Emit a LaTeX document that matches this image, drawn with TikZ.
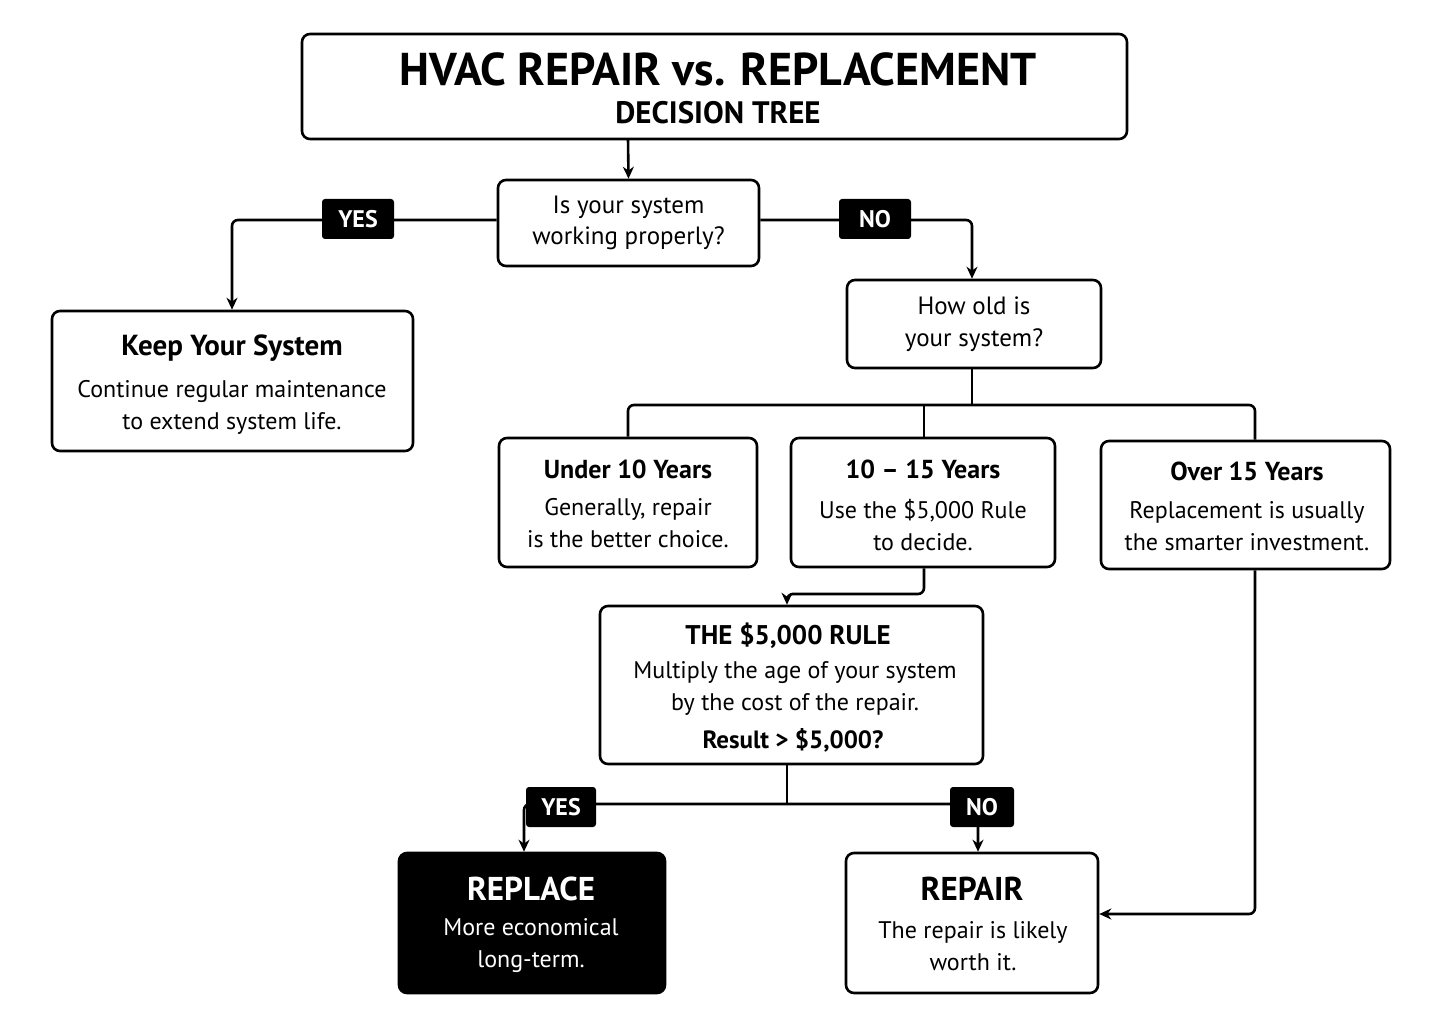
\documentclass[tikz,border=0pt]{standalone}
\usepackage{fontspec}
\setmainfont{PT Sans}
\usetikzlibrary{arrows.meta}
\begin{document}
\begin{tikzpicture}[x=1pt,y=-1pt,
  box/.style={draw,line width=2.6pt,rounded corners=8pt,align=center,inner sep=0pt},
  ln/.style={line width=2.6pt,rounded corners=6pt},
  ar/.style={ln,-{Stealth[length=12pt,width=11pt]}},
  tag/.style={fill=black,text=white,rounded corners=3pt,font=\fontsize{24}{26}\selectfont\bfseries,minimum width=72pt,minimum height=40pt,inner sep=0pt},
  hd/.style={font=\fontsize{29}{32}\selectfont\bfseries},
  bd/.style={font=\fontsize{24}{32}\selectfont,align=center}]
\useasboundingbox (0,0) rectangle (1442,1024);
\fill[white] (0,0) rectangle (1442,1024);
\node[box,minimum width=825pt,minimum height=105pt] (t) at (714.5,86.5) {};
\node[font=\fontsize{46}{50}\selectfont\bfseries] (t1) at (718,69) {HVAC REPAIR vs. REPLACEMENT};
\node[font=\fontsize{31}{34}\selectfont\bfseries] (t2) at (718,113) {DECISION TREE};
\node[box,minimum width=261pt,minimum height=86pt,font=\fontsize{25}{31}\selectfont] (q1) at (628.5,223) {Is your system\\working properly?};
\node[box,minimum width=361pt,minimum height=140pt] (k) at (232.5,381) {};
\node[hd] (k1) at (232,348) {Keep Your System};
\node[bd] (k2) at (232,407) {Continue regular maintenance\\to extend system life.};
\node[box,minimum width=254pt,minimum height=88pt,font=\fontsize{25}{32}\selectfont] (h) at (974,324) {How old is\\your system?};
\node[box,minimum width=258pt,minimum height=129pt] (u) at (628,502.5) {};
\node[hd,font=\fontsize{26}{30}\selectfont\bfseries] at (628,469) {Under 10 Years};
\node[bd] at (628,523) {Generally, repair\\is the better choice.};
\node[box,minimum width=264pt,minimum height=129pt] (m) at (923,502.5) {};
\node[hd,font=\fontsize{26}{30}\selectfont\bfseries] at (923,469) {10 – 15 Years};
\node[bd] at (923,525) {Use the \$5,000 Rule\\to decide.};
\node[box,minimum width=289pt,minimum height=128pt] (o) at (1245.5,505) {};
\node[hd,font=\fontsize{26}{30}\selectfont\bfseries] at (1247,471) {Over 15 Years};
\node[bd] at (1247,526) {Replacement is usually\\the smarter investment.};
\node[box,minimum width=383pt,minimum height=158pt] (r) at (791.5,685) {};
\node[hd,font=\fontsize{27}{30}\selectfont\bfseries] at (788,636) {THE \$5,000 RULE};
\node[bd] at (795,688) {Multiply the age of your system\\by the cost of the repair.};
\node[font=\fontsize{25}{30}\selectfont\bfseries] at (793,740) {Result > \$5,000?};
\node[box,fill=black,minimum width=266pt,minimum height=140pt] (rp) at (532,923) {};
\node[text=white,font=\fontsize{33}{36}\selectfont\bfseries] at (531,889) {REPLACE};
\node[text=white,bd] at (531,946) {More economical\\long-term.};
\node[box,minimum width=252pt,minimum height=140pt] (re) at (972,923) {};
\node[font=\fontsize{33}{36}\selectfont\bfseries] at (972,889) {REPAIR};
\node[bd] at (973,946) {The repair is likely\\worth it.};
% connectors
\coordinate (a1) at (628,139);
\draw[ar] (a1) -- (q1.north);
\coordinate (j1) at (232,220);
\draw[ar] (q1.west |- j1) -- (j1) -- (k.north -| j1);
\coordinate (j2) at (972,220);
\draw[ar] (q1.east |- j2) -- (j2) -- (h.north -| j2);
\node[tag] (y1) at (358,219) {YES};
\node[tag] (n1) at (875,219) {NO};
\coordinate (b0) at (972,405);
\coordinate (bl) at (628,405);
\coordinate (br) at (1255,405);
\draw[ln] (h.south -| b0) -- (b0);
\draw[ln] (u.north) -- (bl) -- (br) -- (br |- o.north);
\draw[ln] (m.north -| 924,0) -- (924,405);
\coordinate (c1) at (924,594); \coordinate (c2) at (787,594);
\draw[ar] (m.south -| c1) -- (c1) -- (c2) -- (r.north -| c2);
\coordinate (d0) at (787,804); \coordinate (dl) at (524,804); \coordinate (dr) at (978,804);
\draw[ln] (r.south -| d0) -- (d0);
\draw[ar] (d0) -- (dl) -- (rp.north -| dl);
\draw[ar] (d0) -- (dr) -- (re.north -| dr);
\node[tag,minimum width=70pt] (y2) at (561,807) {YES};
\node[tag,minimum width=64pt] (n2) at (982,807) {NO};
\coordinate (e1) at (1255,914);
\draw[ar] (o.south -| e1) -- (e1) -- (re.east |- e1);
\end{tikzpicture}
\end{document}
